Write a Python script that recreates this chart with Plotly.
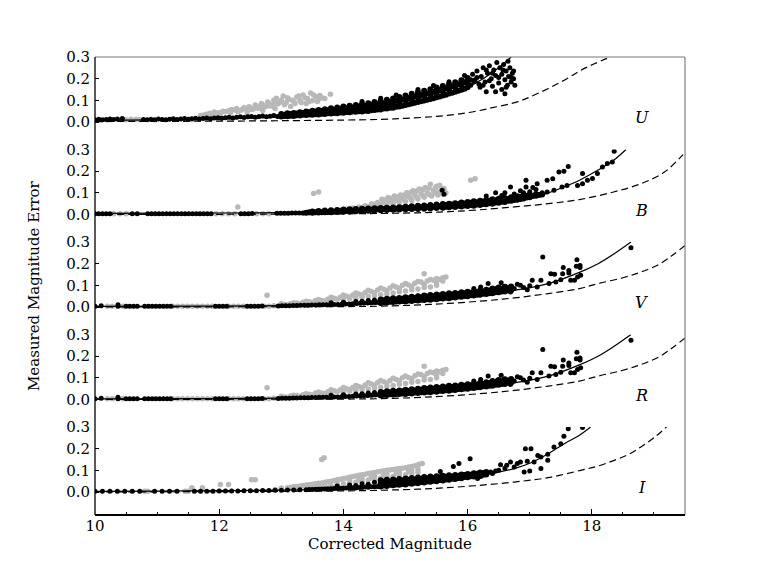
import plotly.graph_objects as go

# ---------------- data ----------------
X_RANGE = [10, 19.5]
X_TICKS = [10, 12, 14, 16, 18]
Y_TICKS = [0.0, 0.1, 0.2, 0.3]
Y_TICK_TEXT = ["0.0", "0.1", "0.2", "0.3"]

# ---- U ----
U_fit_x = [10, 11, 12, 12.5, 13, 13.5, 14, 14.5, 15, 15.5, 16, 16.25, 16.5, 16.7]
U_fit_y = [0.008, 0.010, 0.014, 0.018, 0.023, 0.030, 0.040, 0.053, 0.078, 0.113, 0.163, 0.200, 0.250, 0.300]
U_dash_x = [10, 11, 12, 13, 14, 14.6, 15, 15.5, 16, 16.4, 16.8, 17.0, 17.3, 17.6, 17.8, 18.05, 18.3]
U_dash_y = [0.002, 0.003, 0.004, 0.006, 0.009, 0.012, 0.017, 0.026, 0.043, 0.066, 0.093, 0.115, 0.155, 0.200, 0.235, 0.270, 0.300]
# dense black band: (magnitude, [errors in that column])
U_band = [
    (13.00, (.025, .031, .037)), (13.05, (.028, .034)), (13.10, (.027, .033, .040)), (13.15, (.029, .037)),
    (13.20, (.028, .035, .042)), (13.25, (.031, .039)), (13.30, (.030, .038, .045)), (13.35, (.033, .042)),
    (13.40, (.032, .040, .048)), (13.45, (.035, .045)), (13.50, (.033, .043, .052)), (13.55, (.036, .048)),
    (13.60, (.035, .045, .055)), (13.65, (.038, .051)), (13.70, (.037, .048, .059)), (13.75, (.040, .054)),
    (13.80, (.039, .051, .063)), (13.85, (.042, .057)), (13.90, (.041, .054, .067)), (13.95, (.044, .061)),
    (14.00, (.043, .057, .071)), (14.05, (.046, .064)), (14.10, (.045, .060, .075)), (14.15, (.048, .067)),
    (14.20, (.047, .063, .079)), (14.25, (.050, .071)), (14.30, (.049, .066, .083)), (14.35, (.052, .074)),
    (14.40, (.051, .069, .087)), (14.45, (.054, .078)), (14.50, (.055, .073, .092)), (14.55, (.058, .082)),
    (14.60, (.058, .077, .097)), (14.65, (.062, .087)), (14.70, (.062, .082, .103)), (14.75, (.066, .092)),
    (14.80, (.066, .087, .109)), (14.85, (.070, .098)), (14.90, (.071, .093, .115)), (14.95, (.075, .104)),
    (15.00, (.078, .100, .122)), (15.05, (.082, .111)), (15.10, (.085, .107, .130)), (15.15, (.089, .118)),
    (15.20, (.092, .114, .137)), (15.25, (.096, .125)), (15.30, (.099, .121, .144)), (15.35, (.103, .132)),
    (15.40, (.106, .128, .151)), (15.45, (.110, .140)), (15.50, (.114, .136, .159)), (15.55, (.118, .148)),
    (15.60, (.122, .144, .166)), (15.65, (.126, .156)), (15.70, (.131, .153, .174)), (15.75, (.135, .165)),
    (15.80, (.140, .162, .183)), (15.85, (.144, .174)), (15.90, (.149, .171, .193)), (15.95, (.154, .183)),
    (16.00, (.160, .181, .203)),
]
U_black = [
    (10.0, .011), (10.06, .013), (10.12, .010), (10.18, .012), (10.24, .014), (10.30, .012), (10.36, .014), (10.44, .016),
    (10.78, .012), (10.84, .010), (10.90, .013), (10.96, .011), (11.02, .014), (11.08, .012), (11.14, .011),
    (11.20, .013), (11.26, .015), (11.32, .012), (11.38, .014), (11.44, .016), (11.50, .013), (11.56, .015),
    (11.62, .017), (11.68, .014), (11.74, .016), (11.80, .018), (11.86, .015), (11.92, .018), (11.98, .020),
    (12.04, .017), (12.10, .020), (12.16, .022), (12.22, .019), (12.28, .022), (12.34, .024), (12.40, .021),
    (12.46, .024), (12.52, .026), (12.58, .022), (12.64, .025), (12.70, .028), (12.76, .024), (12.82, .027),
    (12.88, .030), (12.94, .026),
    (14.30, .095), (14.60, .110), (14.85, .125), (15.20, .150), (15.45, .168), (15.70, .186), (15.95, .215),
    (16.05, .170), (16.08, .220), (16.12, .195), (16.15, .235), (16.18, .175), (16.22, .210),
    (16.25, .250), (16.28, .185), (16.30, .140), (16.32, .225), (16.35, .260), (16.38, .200),
    (16.40, .165), (16.42, .240), (16.45, .215), (16.47, .275), (16.50, .180), (16.52, .250),
    (16.55, .150), (16.55, .220), (16.58, .265), (16.60, .195), (16.62, .235), (16.64, .170),
    (16.66, .210), (16.68, .250), (16.70, .185), (16.72, .225), (16.74, .200), (16.76, .170),
    (16.60, .130), (16.45, .140), (16.30, .240), (16.20, .160), (16.65, .280), (16.10, .185),
    (16.15, .205), (16.25, .170), (16.35, .190), (16.40, .225), (16.50, .205), (16.57, .240),
    (16.62, .160), (16.70, .205), (16.74, .235), (16.05, .195),
]
U_gray = [
    (10.42, .012), (10.50, .011), (10.58, .013), (10.66, .012), (10.72, .011), (11.52, .013), (11.56, .012),
    (11.70, .030), (11.80, .036), (11.88, .033), (11.95, .042), (12.02, .038), (12.10, .047),
    (12.18, .043), (12.25, .055), (12.30, .049), (12.38, .060), (12.45, .055), (12.45, .042),
    (12.50, .066), (12.55, .060), (12.60, .073), (12.65, .066), (12.70, .079), (12.70, .052),
    (12.75, .071), (12.80, .087), (12.85, .077), (12.90, .094), (12.90, .062), (12.92, .110),
    (12.95, .084), (13.00, .100), (13.03, .120), (13.08, .090), (13.12, .105), (13.15, .072),
    (13.20, .095), (13.25, .115), (13.30, .100), (13.35, .125), (13.40, .085), (13.42, .108),
    (13.47, .134), (13.50, .098), (13.55, .118), (13.60, .105), (13.65, .112), (13.79, .128),
    (11.75, .032), (11.85, .040), (11.92, .046), (12.00, .043), (12.06, .050), (12.15, .052),
    (12.20, .058), (12.28, .062), (12.35, .054), (12.40, .066), (12.48, .070), (12.52, .058),
    (12.58, .078), (12.62, .064), (12.68, .085), (12.72, .068), (12.78, .092), (12.82, .074),
    (12.88, .100), (12.88, .070), (12.98, .092), (13.05, .080), (13.10, .112), (13.18, .100),
    (13.22, .085), (13.28, .120), (13.32, .090), (13.38, .112), (13.45, .095), (13.52, .125),
    (13.58, .095), (13.62, .122), (13.70, .108),
]

# ---- B ----
B_fit_x = [10, 11, 12, 13, 14, 14.6, 15.5, 16.2, 16.6, 17.0, 17.3, 17.55, 17.8, 18.1, 18.35, 18.55]
B_fit_y = [0.005, 0.006, 0.007, 0.009, 0.014, 0.019, 0.029, 0.042, 0.056, 0.080, 0.100, 0.127, 0.158, 0.205, 0.250, 0.300]
B_dash_x = [10, 12, 13, 14, 14.6, 15.2, 15.7, 16.2, 16.75, 17.3, 17.8, 18.35, 18.8, 19.17, 19.43, 19.55]
B_dash_y = [0.0, 0.001, 0.002, 0.003, 0.005, 0.008, 0.013, 0.022, 0.035, 0.050, 0.069, 0.104, 0.143, 0.196, 0.265, 0.300]
B_band = [
    (13.40, (.008,)), (13.45, (.010,)), (13.50, (.008, .014)), (13.55, (.010,)), (13.60, (.009, .016)),
    (13.65, (.011,)), (13.70, (.010, .018)), (13.75, (.012,)), (13.80, (.011, .020)), (13.85, (.013,)),
    (13.90, (.012, .021)), (13.95, (.015,)), (14.00, (.013, .023)), (14.05, (.016,)), (14.10, (.014, .024)),
    (14.15, (.018,)), (14.20, (.015, .026)), (14.25, (.019,)), (14.30, (.016, .027)), (14.35, (.021,)),
    (14.40, (.017, .028)), (14.45, (.022,)), (14.50, (.019, .029)), (14.55, (.024,)), (14.60, (.020, .030)),
    (14.65, (.025,)), (14.70, (.021, .031)), (14.75, (.026,)), (14.80, (.022, .032)), (14.85, (.027,)),
    (14.90, (.023, .034)), (14.95, (.029,)), (15.00, (.024, .036)), (15.05, (.030,)), (15.10, (.025, .038)),
    (15.15, (.031,)), (15.20, (.026, .040)), (15.25, (.033,)), (15.30, (.027, .042)), (15.35, (.035,)),
    (15.40, (.028, .044)), (15.45, (.036,)), (15.50, (.030, .046)), (15.55, (.038,)),
    (15.60, (.031, .040, .048)), (15.65, (.036, .044)), (15.70, (.033, .041, .050)), (15.75, (.038, .046)),
    (15.80, (.035, .044, .052)), (15.85, (.040, .049)), (15.90, (.037, .046, .055)), (15.95, (.042, .051)),
    (16.00, (.039, .049, .058)), (16.05, (.044, .054)), (16.10, (.041, .051, .061)), (16.15, (.046, .057)),
    (16.20, (.044, .054, .064)), (16.25, (.049, .060)), (16.30, (.047, .057, .067)), (16.35, (.052, .063)),
    (16.40, (.050, .060, .070)), (16.45, (.055, .066)), (16.50, (.054, .063, .073)), (16.55, (.059, .069)),
    (16.60, (.058, .067, .076)), (16.65, (.063, .072)), (16.70, (.063, .072, .080)), (16.75, (.067, .077)),
    (16.80, (.068, .076, .084)), (16.85, (.072, .082)), (16.90, (.074, .081, .088)), (16.95, (.078, .087)),
    (17.00, (.080, .092)), (17.05, (.085,)), (17.10, (.086, .094)), (17.15, (.090,)), (17.20, (.092,)),
]
B_black = [
    (10.0, .004), (10.06, .004), (10.12, .004), (10.18, .004), (10.24, .004), (10.60, .004), (10.68, .004),
    (10.85, .004), (10.91, .004), (10.97, .004), (11.03, .004), (11.09, .004), (11.15, .004), (11.21, .004),
    (11.27, .004), (11.33, .004), (11.39, .004), (11.45, .004), (11.51, .004), (11.57, .004), (11.63, .004),
    (11.69, .004), (11.75, .004), (11.81, .004), (11.87, .004), (12.35, .004), (12.41, .004), (12.47, .004),
    (12.53, .005), (12.93, .006), (12.99, .006), (13.05, .006), (13.11, .006), (13.17, .007), (13.23, .007),
    (13.29, .007), (13.35, .007),
    (15.59, .112), (15.62, .093), (16.69, .127), (16.94, .158), (16.94, .127), (17.12, .142),
    (17.28, .158), (17.37, .165), (17.47, .196), (17.55, .200), (17.62, .222), (17.85, .189),
    (17.85, .142), (17.77, .134), (17.93, .158), (18.01, .166), (18.09, .189), (18.17, .219),
    (18.25, .235), (18.33, .242), (18.36, .292), (17.39, .112), (17.28, .104), (17.60, .134),
    (17.52, .127), (16.45, .100), (16.60, .100), (16.75, .095), (16.85, .110), (17.00, .105),
    (17.10, .115), (17.20, .100), (16.30, .085), (16.90, .100), (16.55, .088), (17.05, .125),
]
B_gray = [
    (10.30, .004), (10.40, .004), (10.50, .004), (11.95, .004), (12.05, .004), (12.15, .004),
    (12.25, .004), (12.60, .004), (12.70, .004), (12.80, .004), (13.35, .006), (13.45, .007),
    (13.55, .008), (13.65, .009), (13.75, .010),
    (12.30, .035), (13.52, .097), (13.60, .104), (16.05, .158), (16.12, .165),
    (13.85, .015), (13.95, .020), (14.00, .014), (14.05, .025), (14.10, .018), (14.15, .030),
    (14.20, .022), (14.25, .035), (14.30, .026), (14.35, .040), (14.40, .030), (14.45, .048),
    (14.50, .035), (14.55, .055), (14.60, .040), (14.62, .070), (14.65, .060), (14.70, .045),
    (14.72, .078), (14.75, .065), (14.80, .050), (14.82, .085), (14.85, .070), (14.90, .055),
    (14.92, .090), (14.95, .075), (15.00, .060), (15.02, .100), (15.05, .082), (15.10, .065),
    (15.12, .110), (15.15, .090), (15.20, .072), (15.22, .118), (15.25, .095), (15.30, .080),
    (15.32, .125), (15.35, .100), (15.40, .140), (15.42, .085), (15.45, .110), (15.50, .130),
    (15.52, .090), (15.58, .115), (15.60, .095), (15.55, .135),
    (13.90, .016), (14.08, .022), (14.18, .028), (14.28, .032), (14.38, .036), (14.48, .042),
    (14.52, .050), (14.58, .047), (14.68, .052), (14.68, .068), (14.78, .058), (14.78, .075),
    (14.88, .062), (14.88, .082), (14.98, .068), (14.98, .090), (15.08, .075), (15.08, .100),
    (15.18, .080), (15.18, .108), (15.28, .088), (15.28, .115), (15.38, .092), (15.38, .122),
    (15.48, .100), (15.48, .122), (15.55, .105), (15.62, .120), (15.65, .100),
]

# ---- V ----
V_fit_x = [10, 12, 13, 14, 14.6, 15.0, 15.4, 16.2, 16.75, 17.3, 17.8, 18.1, 18.36, 18.63]
V_fit_y = [0.003, 0.004, 0.006, 0.010, 0.016, 0.022, 0.030, 0.054, 0.077, 0.108, 0.160, 0.200, 0.246, 0.300]
V_dash_x = [10, 12, 14, 14.6, 15.4, 16.2, 16.75, 17.3, 17.8, 18.1, 18.5, 18.8, 19.1, 19.33, 19.55]
V_dash_y = [0.0, 0.001, 0.002, 0.004, 0.012, 0.027, 0.042, 0.062, 0.085, 0.108, 0.135, 0.162, 0.200, 0.246, 0.295]
V_band = [
    (14.60, (.019, .027, .035)), (14.65, (.022, .031)), (14.70, (.021, .029, .038)), (14.75, (.024, .033)),
    (14.80, (.023, .031, .040)), (14.85, (.026, .035)), (14.90, (.025, .033, .042)), (14.95, (.028, .038)),
    (15.00, (.026, .035, .045)), (15.05, (.030, .040)), (15.10, (.028, .037, .047)), (15.15, (.032, .042)),
    (15.20, (.030, .040, .050)), (15.25, (.034, .045)), (15.30, (.032, .042, .053)), (15.35, (.036, .048)),
    (15.40, (.034, .044, .055)), (15.45, (.038, .050)), (15.50, (.036, .047, .058)), (15.55, (.040, .053)),
    (15.60, (.039, .049, .060)), (15.65, (.043, .055)), (15.70, (.041, .052, .063)), (15.75, (.045, .058)),
    (15.80, (.044, .054, .065)), (15.85, (.048, .060)), (15.90, (.047, .057, .068)), (15.95, (.051, .063)),
    (16.00, (.050, .060, .070)), (16.05, (.054, .066)), (16.10, (.053, .063, .073)), (16.15, (.057, .069)),
    (16.20, (.057, .066, .076)), (16.25, (.061, .072)), (16.30, (.060, .070, .080)), (16.35, (.064, .076)),
    (16.40, (.064, .074, .085)), (16.45, (.068, .080)), (16.50, (.068, .079, .090)), (16.55, (.072, .084)),
    (16.60, (.072, .083, .093)), (16.65, (.077, .088)), (16.70, (.077, .095)),
]
V_black = [
    (10.0, .004), (10.1, .006), (10.37, .003), (10.37, .010), (10.5, .004), (10.56, .004),
    (10.62, .004), (10.68, .004), (10.8, .004), (10.86, .004), (10.92, .004), (10.98, .004), (11.04, .004),
    (11.10, .004), (11.16, .004), (11.22, .004), (11.94, .004), (12.00, .004), (12.06, .004), (12.12, .004),
    (12.45, .004), (12.51, .004), (12.57, .004), (12.63, .004), (12.69, .005),
    (12.95, .005), (13.01, .006), (13.07, .006), (13.13, .006), (13.19, .007), (13.25, .007), (13.31, .008),
    (13.37, .008), (13.43, .008), (13.49, .009), (13.55, .009), (13.61, .010), (13.67, .010), (13.73, .011),
    (13.79, .011), (13.85, .012), (13.91, .012), (13.97, .013), (14.03, .014), (14.09, .014), (14.15, .015),
    (14.21, .016), (14.27, .017), (14.33, .018), (14.39, .019), (14.45, .020), (14.51, .021), (14.56, .022),
    (13.8, .020), (14.0, .022), (14.2, .025), (14.4, .030), (14.3, .027), (14.5, .032),
    (17.21, .231), (18.63, .274), (17.76, .218), (17.81, .192), (17.81, .182), (17.54, .182),
    (17.63, .169), (17.63, .157), (17.53, .154), (17.66, .123), (17.50, .126), (17.42, .115),
    (17.34, .154), (17.40, .151), (17.18, .123), (17.04, .123), (17.12, .092), (16.85, .100),
    (16.80, .105), (16.64, .085), (16.69, .069), (16.54, .112), (16.33, .108), (17.82, .146),
    (17.77, .138), (17.72, .123), (17.31, .108), (16.96, .080), (16.46, .085), (16.51, .077),
    (16.21, .092), (16.10, .085), (17.75, .188), (16.75, .085), (16.90, .090), (17.00, .098),
]
V_gray = [
    (10.20, .004), (10.28, .004), (10.45, .004), (11.25, .004), (11.33, .004), (11.41, .004),
    (11.49, .004), (11.57, .004), (11.65, .004), (11.73, .004), (11.81, .004), (11.89, .004),
    (12.15, .004), (12.23, .004), (12.31, .004), (12.39, .004), (12.72, .004), (12.80, .004),
    (12.88, .006), (12.77, .054),
    (13.0, .015), (13.2, .020), (13.4, .027), (13.6, .035), (13.8, .045), (14.0, .055),
    (14.2, .065), (14.4, .077), (14.6, .088), (14.8, .098), (15.0, .108), (15.2, .118),
    (15.4, .127), (15.6, .135),
    (13.1, .010), (13.3, .015), (13.5, .021), (13.7, .028), (13.9, .036), (14.1, .045),
    (14.3, .055), (14.5, .066), (14.7, .076), (14.9, .086), (15.1, .096), (15.3, .105), (15.5, .113),
    (13.6, .020), (13.8, .025), (14.0, .032), (14.2, .040), (14.4, .048), (14.6, .056),
    (14.8, .065), (15.0, .074), (15.2, .083), (15.4, .092),
    (15.30, .154), (15.65, .138), (15.55, .128),
    (13.05, .012), (13.15, .016), (13.25, .018), (13.35, .022), (13.45, .024), (13.55, .030),
    (13.65, .030), (13.75, .036), (13.85, .040), (13.95, .045), (14.05, .050), (14.15, .055),
    (14.25, .060), (14.35, .067), (14.45, .072), (14.55, .078), (14.65, .082), (14.75, .088),
    (14.85, .092), (14.95, .100), (15.05, .102), (15.15, .110), (15.25, .115), (15.35, .120),
    (15.45, .124), (15.50, .132), (14.10, .038), (14.30, .045), (14.50, .052), (14.70, .060),
    (14.90, .070), (15.10, .080), (15.30, .090), (15.50, .100), (15.60, .120),
]

# ---- R (the R panel of the reference repeats the V points and curves) ----
R_fit_x, R_fit_y = list(V_fit_x), list(V_fit_y)
R_dash_x, R_dash_y = list(V_dash_x), list(V_dash_y)
R_band, R_black, R_gray = list(V_band), list(V_black), list(V_gray)

# ---- I ----
I_fit_x = [10, 11, 12, 13, 13.5, 14, 14.3, 14.6, 15.13, 15.67, 16.21, 16.75, 17.02, 17.29, 17.55, 17.8, 17.98]
I_fit_y = [0.003, 0.004, 0.006, 0.009, 0.011, 0.014, 0.018, 0.024, 0.037, 0.054, 0.076, 0.108, 0.135, 0.175, 0.222, 0.262, 0.300]
I_dash_x = [10, 12, 13, 14, 14.6, 15.2, 15.67, 16.2, 16.75, 17.29, 17.82, 18.1, 18.36, 18.6, 18.79, 19.0, 19.22]
I_dash_y = [0.0, 0.002, 0.003, 0.005, 0.008, 0.013, 0.020, 0.031, 0.046, 0.066, 0.100, 0.120, 0.146, 0.175, 0.208, 0.250, 0.305]
I_band = [
    (14.60, (.025, .040, .054)), (14.65, (.030, .047)), (14.70, (.028, .042, .056)), (14.75, (.033, .049)),
    (14.80, (.031, .045, .058)), (14.85, (.035, .051)), (14.90, (.033, .047, .060)), (14.95, (.037, .053)),
    (15.00, (.035, .049, .062)), (15.05, (.040, .056)), (15.10, (.038, .052, .065)), (15.15, (.043, .058)),
    (15.20, (.041, .054, .067)), (15.25, (.046, .061)), (15.30, (.044, .057, .069)), (15.35, (.049, .063)),
    (15.40, (.047, .059, .071)), (15.45, (.052, .065)), (15.50, (.050, .062, .073)), (15.55, (.055, .068)),
    (15.60, (.053, .064, .075)), (15.65, (.058, .070)), (15.70, (.056, .067, .077)), (15.75, (.061, .072)),
    (15.80, (.060, .070, .079)), (15.85, (.065, .075)), (15.90, (.064, .073, .081)), (15.95, (.069, .078)),
    (16.00, (.068, .083)), (16.05, (.073, .080)), (16.10, (.072, .086)), (16.15, (.077, .084)),
    (16.20, (.076, .090)), (16.25, (.080, .088)), (16.30, (.081, .092)),
]
I_black = [
    (10.0, .003), (10.12, .003), (10.24, .003), (10.36, .003), (10.48, .003), (10.60, .003),
    (10.72, .003), (10.96, .003), (11.08, .003), (11.20, .003), (11.32, .003), (11.60, .004),
    (11.70, .004), (11.80, .004), (11.90, .004), (12.00, .005), (12.10, .005), (12.20, .005),
    (12.30, .005), (12.40, .006), (12.50, .006), (12.60, .006), (12.70, .007), (12.80, .007),
    (12.90, .008), (13.00, .008), (13.10, .009), (13.20, .009), (13.30, .010), (13.40, .011),
    (13.50, .012), (13.60, .013), (13.70, .014), (13.80, .015), (13.90, .016), (14.00, .017),
    (14.10, .018), (14.20, .019), (14.30, .021), (14.40, .022), (14.50, .024),
    (13.45, .012), (13.55, .013), (13.65, .014), (13.75, .015), (13.85, .016), (13.95, .017),
    (14.05, .018), (14.15, .020), (14.25, .021), (14.35, .023), (14.45, .024), (14.55, .026),
    (13.9, .028), (14.1, .032), (14.3, .038), (14.5, .045), (14.2, .030), (14.4, .036),
    (17.62, .292), (17.85, .298), (17.55, .257), (17.50, .223), (16.93, .200), (17.02, .200),
    (17.18, .108), (16.91, .092), (17.00, .097), (17.18, .162), (17.29, .174), (16.80, .131),
    (16.85, .138), (16.96, .142), (16.69, .138), (16.63, .123), (16.53, .126), (16.50, .100),
    (16.04, .154), (15.86, .131), (15.77, .118), (15.56, .095), (16.37, .092), (16.45, .097),
    (17.13, .169), (17.07, .138), (17.39, .208), (17.29, .146), (16.21, .072), (16.16, .062),
    (16.40, .085), (16.60, .110), (16.75, .115),
]
I_gray = [
    (10.80, .003), (10.85, .003), (11.45, .003), (11.50, .003), (11.56, .020), (11.73, .020),
    (12.02, .035), (12.15, .035), (12.52, .057), (12.58, .057), (13.65, .150), (13.69, .158),
    (12.9, .012), (13.0, .018), (13.1, .020), (13.2, .024), (13.3, .028), (13.4, .032),
    (13.5, .036), (13.6, .040), (13.7, .045), (13.8, .050), (13.9, .056), (14.0, .062),
    (14.1, .068), (14.2, .074), (14.3, .080), (14.4, .085), (14.5, .090), (14.6, .095),
    (14.7, .100), (14.8, .104), (14.9, .108), (15.0, .112), (15.1, .118), (15.2, .125), (15.27, .131),
    (13.4, .020), (13.6, .025), (13.8, .030), (14.0, .038), (14.2, .045), (14.4, .055),
    (14.6, .065), (14.8, .072), (15.0, .080), (15.2, .090),
    (14.1, .052), (14.3, .062), (14.5, .072), (14.7, .082), (14.9, .090), (15.1, .100),
    (13.00, .013), (13.15, .022), (13.25, .026), (13.35, .030), (13.45, .034), (13.55, .038),
    (13.65, .042), (13.75, .047), (13.85, .053), (13.95, .059), (14.05, .065), (14.15, .071),
    (14.25, .077), (14.35, .082), (14.45, .088), (14.55, .093), (14.65, .098), (14.75, .102),
    (14.85, .106), (14.95, .110), (15.05, .115), (15.15, .121), (15.22, .128), (13.50, .024),
    (13.70, .030), (13.90, .036), (14.10, .043), (14.30, .050), (14.50, .060), (14.70, .070),
    (14.90, .078), (15.10, .086), (14.25, .058), (14.45, .066), (14.65, .076), (14.85, .085),
    (15.05, .095), (15.20, .105),
]

PANELS = [
    ("U", U_gray, U_band, U_black, U_fit_x, U_fit_y, U_dash_x, U_dash_y),
    ("B", B_gray, B_band, B_black, B_fit_x, B_fit_y, B_dash_x, B_dash_y),
    ("V", V_gray, V_band, V_black, V_fit_x, V_fit_y, V_dash_x, V_dash_y),
    ("R", R_gray, R_band, R_black, R_fit_x, R_fit_y, R_dash_x, R_dash_y),
    ("I", I_gray, I_band, I_black, I_fit_x, I_fit_y, I_dash_x, I_dash_y),
]

# ---------------- figure ----------------
FONT = "DejaVu Serif"
GRAY = "#b8b8b8"
W, H = 761, 571
BODY = 8                    # the html page body adds an 8px offset
PLOT_W, PLOT_H = 590, 458
ML, MT = 95 - BODY, 57 - BODY
MR, MB = W - ML - PLOT_W, H - MT - PLOT_H
STEP = 92.5                 # px between panel tops
PANEL_H = 88.0              # px height of one panel
Y_RANGE = [0.3 - PANEL_H / 216.7, 0.3]

fig = go.Figure()
layout_axes = {}
annotations = []
for i, (name, gray, band, black, fx, fy, dx, dy) in enumerate(PANELS):
    yname = "y" if i == 0 else f"y{i+1}"
    ykey = "yaxis" if i == 0 else f"yaxis{i+1}"
    top = 1 - i * STEP / PLOT_H
    bottom = max(0.0, top - PANEL_H / PLOT_H)
    fig.add_trace(go.Scatter(x=[p[0] for p in gray], y=[p[1] for p in gray], mode="markers",
                             marker=dict(color=GRAY, size=5.5, line=dict(width=0)),
                             xaxis="x", yaxis=yname, showlegend=False, hoverinfo="skip"))
    fig.add_trace(go.Scatter(x=[c[0] for c in band for _ in c[1]], y=[v for c in band for v in c[1]],
                             mode="markers", marker=dict(color="black", size=6, line=dict(width=0)),
                             xaxis="x", yaxis=yname, showlegend=False, hoverinfo="skip"))
    fig.add_trace(go.Scatter(x=[p[0] for p in black], y=[p[1] for p in black], mode="markers",
                             marker=dict(color="black", size=5, line=dict(width=0)),
                             xaxis="x", yaxis=yname, showlegend=False, hoverinfo="skip"))
    fig.add_trace(go.Scatter(x=fx, y=fy, mode="lines", line=dict(color="black", width=1.2, shape="spline"),
                             xaxis="x", yaxis=yname, showlegend=False, hoverinfo="skip"))
    fig.add_trace(go.Scatter(x=dx, y=dy, mode="lines",
                             line=dict(color="black", width=1.2, dash="7px,4px", shape="spline"),
                             xaxis="x", yaxis=yname, showlegend=False, hoverinfo="skip"))
    layout_axes[ykey] = dict(
        domain=[bottom, top], range=Y_RANGE, anchor="x", automargin=False,
        tickvals=Y_TICKS, ticktext=Y_TICK_TEXT, ticks="inside", ticklen=4,
        tickcolor="black", tickwidth=1, showgrid=False, zeroline=False, showline=False,
        tickfont=dict(family=FONT, size=15, color="black"), ticklabelstandoff=4,
    )
    annotations.append(dict(x=18.8, y=0.02, xref="x", yref=yname, text=f"<i>{name}</i>",
                            showarrow=False, xanchor="center", yanchor="middle",
                            font=dict(family=FONT, size=16, color="black")))

annotations.append(dict(x=-(95 - 34) / PLOT_W, y=0.5, xref="paper", yref="paper",
                        text="Measured Magnitude Error", textangle=-90, showarrow=False,
                        xanchor="center", yanchor="middle",
                        font=dict(family=FONT, size=15, color="black")))

fig.update_layout(
    width=W, height=H, margin=dict(l=ML, r=MR, t=MT, b=MB, autoexpand=False),
    paper_bgcolor="white", plot_bgcolor="white",
    font=dict(family=FONT, size=15, color="black"),
    xaxis=dict(domain=[0, 1], range=X_RANGE, anchor="y5", tickvals=X_TICKS, automargin=False,
               ticks="inside", ticklen=6, tickcolor="black", tickwidth=1,
               minor=dict(dtick=0.5, tick0=10, ticks="inside", ticklen=3, tickcolor="black"),
               showgrid=False, zeroline=False, showline=False,
               tickfont=dict(family=FONT, size=15, color="black"),
               title=dict(text="Corrected Magnitude", standoff=4,
                          font=dict(family=FONT, size=15, color="black"))),
    annotations=annotations,
    shapes=[
        dict(type="line", xref="paper", yref="paper", x0=0, x1=1, y0=1, y1=1,
             line=dict(color="#777777", width=1)),
        dict(type="line", xref="paper", yref="paper", x0=1, x1=1, y0=0, y1=1,
             line=dict(color="#666666", width=1)),
        dict(type="line", xref="paper", yref="paper", x0=0, x1=0, y0=0, y1=1,
             line=dict(color="black", width=1.3)),
        dict(type="line", xref="paper", yref="paper", x0=0, x1=1, y0=0, y1=0,
             line=dict(color="black", width=2)),
    ],
    **layout_axes,
)

fig.write_html("out.html")
